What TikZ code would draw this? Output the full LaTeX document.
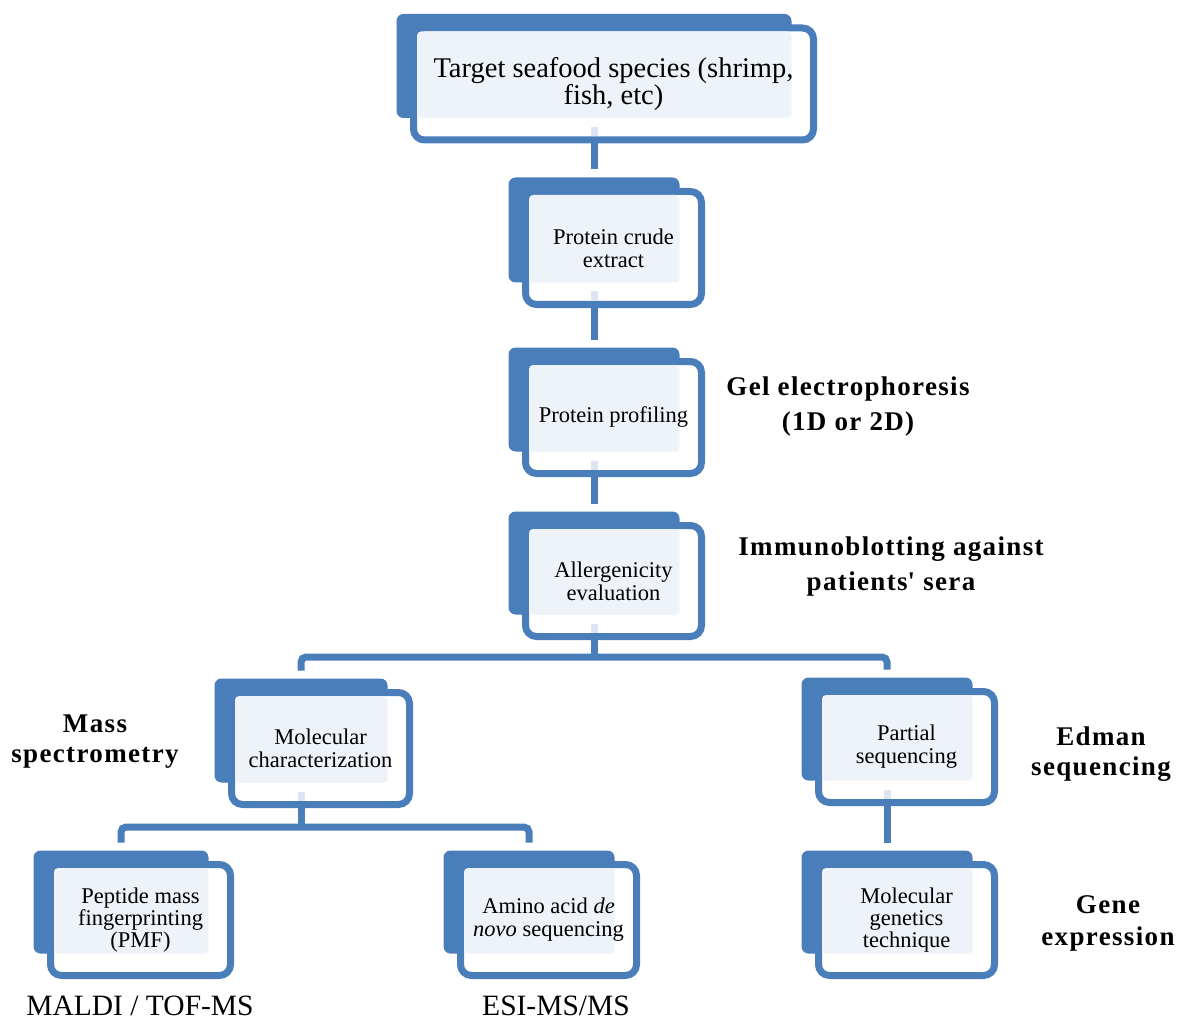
\documentclass[tikz,border=0pt]{standalone}
\usepackage{fontspec}
\setmainfont{Liberation Serif}
\newfontfamily\labelfont[LetterSpace=5]{Liberation Serif}
\usetikzlibrary{calc}
\definecolor{boxblue}{HTML}{4A7EBB}
\definecolor{boxlight}{HTML}{EEF3FA}
\definecolor{ghost}{HTML}{DCE5F1}
\pgfdeclarelayer{bglayer}
\pgfdeclarelayer{midlayer}
\pgfsetlayers{bglayer,midlayer,main}
\tikzset{
  boxtext/.style={inner sep=0pt, outer sep=0pt, align=center, text=black,
    font=\fontsize{22.5}{23}\selectfont},
  conn/.style={draw=boxblue, line width=7pt},
  ghostline/.style={draw=ghost, line width=7pt},
  sidelabel/.style={align=center, inner sep=0pt, text=black,
    font=\labelfont\bfseries\fontsize{27}{35}\selectfont},
  plainlabel/.style={inner sep=0pt, anchor=base, text=black,
    font=\fontsize{29.5}{32}\selectfont},
}
\newcommand{\seabox}[6][]{%
  \node[boxtext, minimum width=#4pt, minimum height=#5pt, #1] (#2) at #3 {#6};
  \begin{pgfonlayer}{bglayer}
    \fill[boxblue, rounded corners=7pt] ($(#2.north west)+(-17,-14)$) rectangle ($(#2.south east)+(-22,-22)$);
  \end{pgfonlayer}
  \begin{pgfonlayer}{midlayer}
    \draw[boxblue, line width=7pt, fill=white, rounded corners=11pt] (#2.north west) rectangle (#2.south east);
    \fill[boxlight, rounded corners=4pt] ($(#2.north west)+(3.5,3.5)$) rectangle ($(#2.south east)+(-22,-22)$);
  \end{pgfonlayer}
  \coordinate (#2-in) at ($(#2.north)+(-19.5,-22)$);
  \coordinate (#2-out) at ($(#2.south)+(-19.5,0)$);
  \coordinate (#2-gs) at ($(#2.south)+(-19.5,-13)$);
  \coordinate (#2-ge) at ($(#2.south)+(-19.5,-3.5)$);
}
\newcommand{\ghostseg}[1]{%
  \begin{pgfonlayer}{midlayer}
    \draw[ghostline] (#1-gs) -- (#1-ge);
  \end{pgfonlayer}
}
\begin{document}
\begin{tikzpicture}[x=1pt, y=-1pt]
\useasboundingbox (0,0) rectangle (1183,1024);

\seabox[font=\fontsize{28.5}{27}\selectfont]{n1}{(613.5,84)}{400}{112}{Target seafood species (shrimp,\\ fish, etc)}
\seabox{n2}{(613.5,248)}{176}{113}{Protein crude\\ extract}
\seabox{n3}{(613.5,417.5)}{176}{112}{Protein profiling}
\seabox{n4}{(613.5,581)}{176}{111}{Allergenicity\\ evaluation}
\seabox{n5}{(320.5,748.5)}{178}{112}{Molecular\\ characterization}
\seabox{n6}{(906.5,747)}{176}{111}{Partial\\ sequencing}
\seabox[font=\fontsize{22.5}{22}\selectfont]{n7}{(140.5,920)}{180}{111}{Peptide mass\\ fingerprinting\\ (PMF)}
\seabox{n8}{(548.5,920)}{176}{111}{Amino acid \textit{de}\\ \textit{novo} sequencing}
\seabox[font=\fontsize{22.5}{22}\selectfont]{n9}{(906.5,920)}{176}{111}{Molecular\\ genetics\\ technique}

\ghostseg{n1}
\ghostseg{n2}
\ghostseg{n3}
\ghostseg{n4}
\ghostseg{n5}
\ghostseg{n6}

% connectors
\draw[conn] (n1-out) -- (n2-in);
\draw[conn] (n2-out) -- (n3-in);
\draw[conn] (n3-out) -- (n4-in);
\coordinate (j1) at ($(n4-out)+(0,20.5)$);
\draw[conn] (n4-out) -- (j1);
\draw[conn, rounded corners=5pt] (n5-in) |- (j1) -| (n6-in);
\coordinate (j2) at ($(n5-out)+(0,22.5)$);
\draw[conn] (n5-out) -- (j2);
\draw[conn, rounded corners=5pt] (n7-in) |- (j2) -| (n8-in);
\draw[conn] (n6-out) -- (n9-in);

% side labels
\node[sidelabel] (gel) at (848,406.5) {Gel electrophoresis\\ (1D or 2D)};
\node[sidelabel] (imm) at (891,566.5) {Immunoblotting against\\ patients\textquotesingle{} sera};
\node[sidelabel, font=\labelfont\bfseries\fontsize{27}{30}\selectfont] (ms) at (95,742) {Mass\\ spectrometry};
\node[sidelabel, font=\labelfont\bfseries\fontsize{27}{30}\selectfont] (edm) at (1101,754) {Edman\\ sequencing};
\node[sidelabel, font=\labelfont\bfseries\fontsize{27}{32}\selectfont] (gene) at (1108,923) {Gene\\ expression};
\node[plainlabel] (maldi) at (140,1015) {MALDI / TOF-MS};
\node[plainlabel] (esi) at (556,1015) {ESI-MS/MS};
\end{tikzpicture}
\end{document}
